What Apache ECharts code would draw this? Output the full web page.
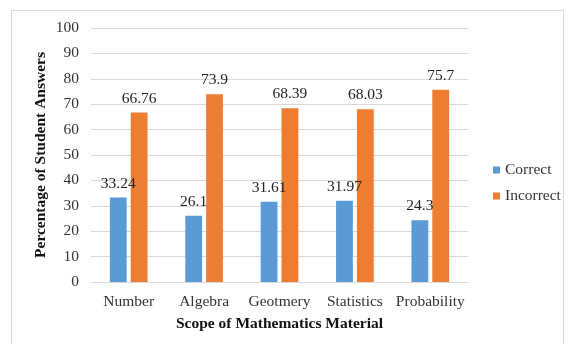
<!DOCTYPE html>
<html>
<head>
<meta charset="utf-8">
<script src="https://cdn.jsdelivr.net/npm/echarts@6/dist/echarts.min.js"></script>
<style>
html,body{margin:0;padding:0;background:#fff;}
#chart{width:568px;height:344px;}
</style>
</head>
<body>
<div id="chart"></div>
<script>
const categories = ['Number', 'Algebra', 'Geotmery', 'Statistics', 'Probability'];
const correctValues = [33.24, 26.1, 31.61, 31.97, 24.3];
const incorrectValues = [66.76, 73.9, 68.39, 68.03, 75.7];
const seriesNames = ['Correct', 'Incorrect'];

const font = '"Liberation Serif", "Times New Roman", serif';
const chart = echarts.init(document.getElementById('chart'), null, {renderer: 'canvas'});

const labelStyle = {
  show: true,
  position: 'top',
  distance: 6,
  color: '#222',
  fontFamily: font,
  fontSize: 15.5
};

chart.setOption({
  animation: false,
  backgroundColor: '#fff',
  graphic: [{
    type: 'rect',
    shape: {x: 11.5, y: 10.5, width: 552, height: 340},
    style: {fill: 'none', stroke: '#d9d9d9', lineWidth: 1},
    silent: true
  }],
  grid: {left: 91, right: 100, top: 28, bottom: 62},
  legend: {
    orient: 'vertical',
    left: 488,
    top: 157,
    itemWidth: 7,
    itemHeight: 7,
    itemGap: 10,
    icon: 'rect',
    textStyle: {fontFamily: font, fontSize: 15.5, color: '#333'},
    data: seriesNames
  },
  xAxis: {
    type: 'category',
    data: categories,
    axisLine: {lineStyle: {color: '#d9d9d9'}},
    axisTick: {show: false},
    axisLabel: {interval: 0, fontFamily: font, fontSize: 15.5, color: '#333', margin: 12},
    name: 'Scope of Mathematics Material',
    nameLocation: 'middle',
    nameGap: 34,
    nameTextStyle: {fontFamily: font, fontSize: 15.5, fontWeight: 'bold', color: '#111'}
  },
  yAxis: {
    type: 'value',
    min: 0,
    max: 100,
    interval: 10,
    axisLine: {show: false},
    axisTick: {show: false},
    splitLine: {lineStyle: {color: '#d9d9d9'}},
    axisLabel: {fontFamily: font, fontSize: 15.5, color: '#333', margin: 12},
    name: 'Percentage of Student Answers',
    nameLocation: 'middle',
    nameRotate: 90,
    nameGap: 42,
    nameMoveOverlap: false,
    nameTextStyle: {fontFamily: font, fontSize: 15.5, fontWeight: 'bold', color: '#111'}
  },
  series: [
    {
      name: seriesNames[0],
      type: 'bar',
      data: correctValues,
      itemStyle: {color: '#5b9bd5'},
      barGap: '24%',
      barCategoryGap: '50%',
      label: labelStyle
    },
    {
      name: seriesNames[1],
      type: 'bar',
      data: incorrectValues,
      itemStyle: {color: '#ed7d31'},
      label: labelStyle
    }
  ]
});
</script>
</body>
</html>
